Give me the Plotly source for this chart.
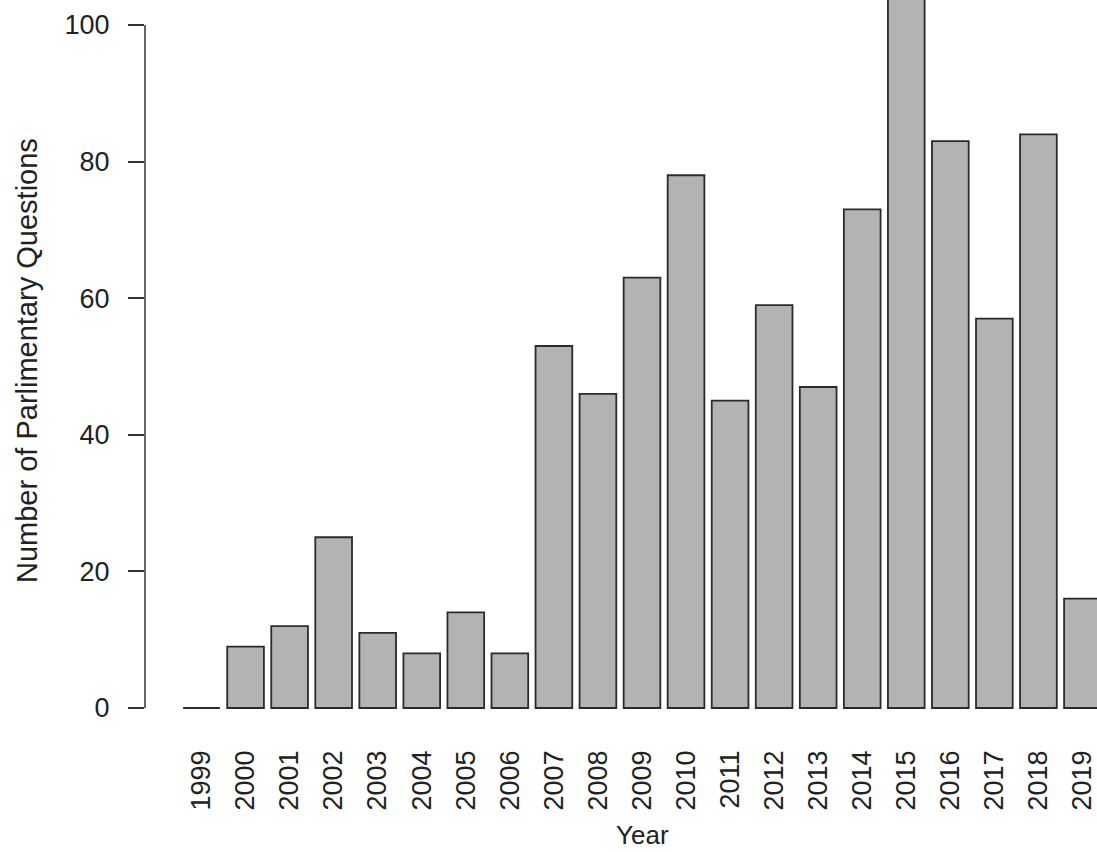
import plotly.graph_objects as go

years = [str(y) for y in range(1999, 2020)]
questions = [0, 9, 12, 25, 11, 8, 14, 8, 53, 46, 63, 78, 45, 59, 47, 73, 110, 83, 57, 84, 16]
y_ticks = [0, 20, 40, 60, 80, 100]

FONT = "Liberation Sans, Arial, Helvetica, sans-serif"
W, H = 1097, 852
ML, MB = 145, 142
plot_h = H - MB
px_per_unit = 6.83
y_lo = -2 / px_per_unit
y_hi = y_lo + plot_h / px_per_unit

fig = go.Figure()
fig.add_trace(go.Bar(
    x=years, y=questions,
    marker=dict(color="#b3b3b3", line=dict(color="#2b2b2b", width=1.8)),
    hoverinfo="x+y",
))

fig.update_layout(
    width=W, height=H,
    margin=dict(l=ML, r=0, t=0, b=MB, pad=0),
    paper_bgcolor="white", plot_bgcolor="white",
    bargap=1/6,
    showlegend=False,
    font=dict(family=FONT, size=26, color="#222222"),
    xaxis=dict(
        type="category",
        range=[-1.283, 20.33],
        showgrid=False, zeroline=False, showline=False,
        ticks="", tickangle=-90,
        ticklabelstandoff=34,
        tickfont=dict(size=27, family=FONT, color="#222222"),
    ),
    yaxis=dict(
        range=[y_lo, y_hi],
        tickvals=y_ticks,
        showgrid=False, zeroline=False, showline=False,
        ticks="outside", ticklen=16, tickwidth=1.5, tickcolor="#333333",
        ticklabelstandoff=13,
        tickfont=dict(size=27, family=FONT, color="#222222"),
    ),
    shapes=[dict(type="line", xref="paper", yref="y", x0=0, x1=0, y0=y_ticks[0], y1=y_ticks[-1],
                 line=dict(color="#333333", width=1.5))],
    annotations=[
        dict(text="Number of Parlimentary Questions", xref="paper", yref="paper",
             x=(27 - ML) / (W - ML), y=(plot_h - 361) / plot_h, textangle=-90,
             xanchor="center", yanchor="middle", showarrow=False,
             font=dict(size=29, family=FONT, color="#222222")),
        dict(text="Year", xref="paper", yref="paper",
             x=(642 - ML) / (W - ML), y=(plot_h - 835) / plot_h,
             xanchor="center", yanchor="middle", showarrow=False,
             font=dict(size=26, family=FONT, color="#222222")),
    ],
)

fig.write_html(
    "out.html",
    config={"displayModeBar": False},
    post_script="document.body.style.margin='0';document.body.style.overflow='hidden';",
)
